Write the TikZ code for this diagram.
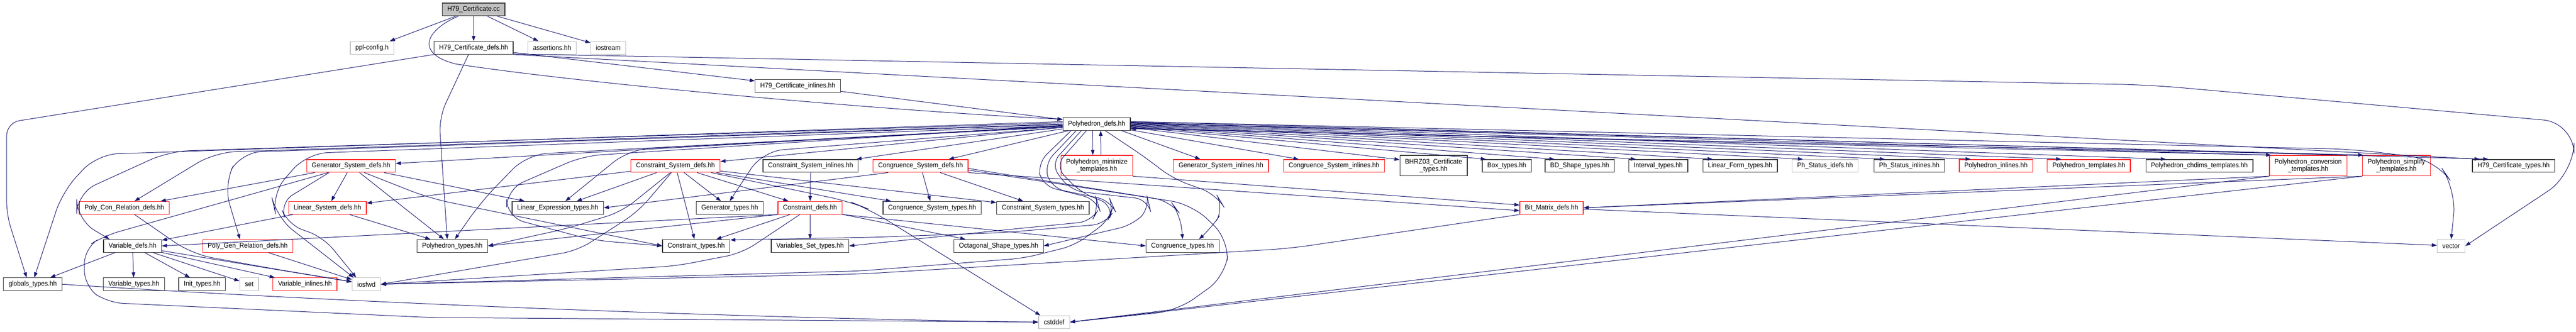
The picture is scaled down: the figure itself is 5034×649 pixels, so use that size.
\documentclass[tikz,border=0pt]{standalone}
\usepackage{fontspec}
\newfontfamily\nf{Liberation Sans}[FakeStretch=0.93]
\usetikzlibrary{arrows.meta}
\definecolor{edgec}{HTML}{191970}
\definecolor{grayb}{HTML}{BFBFBF}
\definecolor{redb}{HTML}{FF2020}
\begin{document}
\begin{tikzpicture}[x=1pt,y=-1pt,
  nb/.style={draw=black!80, line width=1.3pt, fill=white, minimum height=25pt, inner xsep=10pt, inner ysep=0pt, font=\nf\fontsize{13.5}{14}\selectfont, align=center},
  nr/.style={nb, draw=redb},
  ng/.style={nb, draw=grayb},
  nb2/.style={nb, minimum height=40pt},
  nr2/.style={nr, minimum height=40pt},
  edg/.style={draw=edgec, line width=1pt, -{Triangle[length=10pt,width=7pt]}, fill=none}]
\useasboundingbox (0,0) rectangle (5034,649);
\fill[white] (0,0) rectangle (5034,649);
% ---------- nodes ----------
\node[nb, fill=grayb] (cc) at (925.5,18.5) {H79\_Certificate.cc};
\node[ng] (pplcfg) at (727,93.5) {ppl-config.h};
\node[nb] (h79d) at (925.5,93.5) {H79\_Certificate\_defs.hh};
\node[ng] (assert) at (1079,93.5) {assertions.hh};
\node[ng] (iostream) at (1188.5,93.5) {iostream};
\node[nb] (h79i) at (1559,168) {H79\_Certificate\_inlines.hh};
\node[nb] (pd) at (2143,242.5) {Polyhedron\_defs.hh};
% row 2
\node[nr] (gsd) at (686,324.5) {Generator\_System\_defs.hh};
\node[nr] (csd) at (1320,324.5) {Constraint\_System\_defs.hh};
\node[nb] (csi) at (1584,324.5) {Constraint\_System\_inlines.hh};
\node[nr] (cgsd) at (1799,324.5) {Congruence\_System\_defs.hh};
\node[nr2] (minimize) at (2143.5,324) {Polyhedron\_minimize\\\_templates.hh};
\node[nr] (gsi) at (2386,324.5) {Generator\_System\_inlines.hh};
\node[nr] (cgsi) at (2607,324.5) {Congruence\_System\_inlines.hh};
\node[nb2] (bhrz) at (2801.5,324) {BHRZ03\_Certificate\\\_types.hh};
\node[nb] (box) at (2944.5,324.5) {Box\_types.hh};
\node[nb] (bds) at (3087,324.5) {BD\_Shape\_types.hh};
\node[nb] (interval) at (3240.5,324.5) {Interval\_types.hh};
\node[nb] (lform) at (3400.5,324.5) {Linear\_Form\_types.hh};
\node[ng] (phidefs) at (3566.5,324.5) {Ph\_Status\_idefs.hh};
\node[nb] (phinl) at (3731,324.5) {Ph\_Status\_inlines.hh};
\node[nr] (pinl) at (3900.5,324.5) {Polyhedron\_inlines.hh};
\node[nr] (ptempl) at (4082,324.5) {Polyhedron\_templates.hh};
\node[nb] (chdims) at (4298,324.5) {Polyhedron\_chdims\_templates.hh};
\node[nr2] (conv) at (4510.5,324) {Polyhedron\_conversion\\\_templates.hh};
\node[nr2] (simp) at (4683,324) {Polyhedron\_simplify\\\_templates.hh};
\node[nb] (h79t) at (4912,324.5) {H79\_Certificate\_types.hh};
% row 3
\node[nr] (pcon) at (243,406.5) {Poly\_Con\_Relation\_defs.hh};
\node[nr] (lsd) at (640,406.5) {Linear\_System\_defs.hh};
\node[nb] (letypes) at (1090,406.5) {Linear\_Expression\_types.hh};
\node[nb] (gtypes) at (1426,406.5) {Generator\_types.hh};
\node[nr] (cdefs) at (1583,406.5) {Constraint\_defs.hh};
\node[nb] (cgst) at (1821.5,406.5) {Congruence\_System\_types.hh};
\node[nb] (cst) at (2038,406.5) {Constraint\_System\_types.hh};
\node[nr] (bitm) at (3032,406.5) {Bit\_Matrix\_defs.hh};
% row 4
\node[nb] (vdefs) at (259,481) {Variable\_defs.hh};
\node[nr] (pgen) at (484,481) {Poly\_Gen\_Relation\_defs.hh};
\node[nb] (ptypes) at (884,481) {Polyhedron\_types.hh};
\node[nb] (ctypes) at (1360.5,481) {Constraint\_types.hh};
\node[nb] (vstypes) at (1583,481) {Variables\_Set\_types.hh};
\node[nb] (octypes) at (1951.5,481) {Octagonal\_Shape\_types.hh};
\node[nb] (cgtypes) at (2311,481) {Congruence\_types.hh};
\node[ng] (vector) at (4790,481) {vector};
% row 5
\node[nb] (globals) at (64,556) {globals\_types.hh};
\node[nb] (vtypes) at (261.6,556) {Variable\_types.hh};
\node[nb] (init) at (395,556) {Init\_types.hh};
\node[ng] (set) at (487,556) {set};
\node[nr] (vinl) at (596,556) {Variable\_inlines.hh};
\node[ng] (iosfwd) at (716,556) {iosfwd};
\node[ng] (cstddef) at (2060,630) {cstddef};
% ---------- edges ----------
% H79_Certificate.cc
\draw[edg] (cc) -- (pplcfg);
\draw[edg] (cc) -- (h79d);
\draw[edg] (cc) -- (assert);
\draw[edg] (cc) -- (iostream);
\draw[edg] ([xshift=-30pt]cc.south) .. controls (830,60) and (812,105) .. (890,125) .. controls (1150,165) and (1750,218) .. (pd.172);
% H79_Certificate_defs
\draw[edg, rounded corners=25pt] (h79d.south west) -- (13,240) -- (13,420) -- ([xshift=-12pt]globals.north);
\draw[edg, rounded corners=30pt] ([xshift=-10pt]h79d.south) -- (858,230) -- ([xshift=-10pt]ptypes.north);
\draw[edg] (h79d) -- (h79i);
\draw[edg] (h79d.south east) -- ([xshift=15pt]h79t.north west);
\draw[edg, rounded corners=60pt] ([yshift=1pt]h79d.south east) -- (1240,110) -- (4200,166) -- (5030,240) -- (5030,340) -- (vector.east);
\draw[edg] (h79i) -- (pd);
% Polyhedron_defs, left fan
\draw[edg, rounded corners=40pt] (pd.176) -- (190,302) -- (122,375) -- ([xshift=3pt]globals.north);
\draw[edg, rounded corners=40pt] (pd.178) -- (330,296) -- (150,378) -- (150,430) -- ([xshift=-45pt]vdefs.north);
\draw[edg, rounded corners=40pt] (pd.180) -- (420,298) -- ([xshift=20pt]pcon.north);
\draw[edg, rounded corners=40pt] (pd.181) -- (470,298) -- (437,360) -- ([xshift=-15pt]pgen.north);
\draw[edg, rounded corners=40pt] (pd.183) -- (600,300) -- (530,380) -- (540,425) -- ([xshift=-25pt]iosfwd.north);
\draw[edg] (pd) -- (gsd);
\draw[edg, rounded corners=40pt] (pd.184) -- (1030,302) -- (940,395) -- ([xshift=5pt]ptypes.north);
\draw[edg, rounded corners=40pt] (pd.185) -- (1230,292) -- ([xshift=15pt]letypes.north);
\draw[edg] (pd) -- (csd);
\draw[edg] (pd) -- (csi);
\draw[edg, rounded corners=40pt] (pd.186) -- (1490,296) -- (gtypes.north);
\draw[edg, rounded corners=35pt] (pd.182) -- (1140,305) -- (990,370) -- (990,425) -- (1160,470) -- (ctypes.west);
\draw[edg] (pd) -- (cgsd);
% Polyhedron_defs <-> minimize
\draw[edg] ([xshift=-8pt]pd.south) -- ([xshift=-8pt]minimize.north);
\draw[edg] ([xshift=8pt]minimize.north) -- ([xshift=8pt]pd.south);
% loops below Polyhedron_defs
\draw[edg, rounded corners=25pt] ([xshift=-50pt]pd.south) -- (2027,320) -- (2037,363) -- (2143,390) -- (2148,407) -- (2133,433) -- (1960,450) -- (vstypes.east);
\draw[edg, rounded corners=25pt] ([xshift=-40pt]pd.south) -- (2040,322) -- (2055,368) -- (2170,392) -- (2178,410) -- (2160,438) -- (1960,455) -- (1710,464) -- (ctypes.10);
\draw[edg, rounded corners=25pt] ([xshift=-30pt]pd.south) -- (2053,322) -- (2093,373) -- (2243,390) -- (2247,407) -- (2213,440) -- (octypes.east);
\draw[edg, rounded corners=25pt] ([xshift=-20pt]pd.south) -- (2062,325) -- (2110,375) -- (2175,402) -- (2168,430) -- (2100,480) -- (2000,505) -- (1680,530) -- (iosfwd.east);
\draw[edg, rounded corners=30pt] ([xshift=17pt]pd.south) -- (2237,307) -- (2293,350) -- (2377,380) -- (2393,407) -- (2367,447) -- ([xshift=32pt]cgtypes.north);
% Polyhedron_defs, right fan
\draw[edg] (pd.-15) -- ([xshift=53pt]gsi.north west);
\draw[edg] (pd.-10) -- ([xshift=30pt]cgsi.north west);
\draw[edg] (pd.-6) -- (bhrz.170);
\draw[edg] (pd.-5) -- ([xshift=8pt]box.north west);
\draw[edg] (pd.-4) -- ([xshift=19pt]bds.north west);
\draw[edg] (pd.-3) -- ([xshift=15pt]interval.north west);
\draw[edg] (pd.-2) -- ([xshift=20pt]lform.north west);
\draw[edg] (pd.-1) -- ([xshift=22pt]phidefs.north west);
\draw[edg] (pd.0) -- ([xshift=22pt]phinl.north west);
\draw[edg] (pd.1) -- ([xshift=23pt]pinl.north west);
\draw[edg] (pd.2) -- ([xshift=28pt]ptempl.north west);
\draw[edg] (pd.3) -- ([xshift=40pt]chdims.north west);
\draw[edg] (pd.2) -- ([xshift=4pt]conv.north west);
\draw[edg] (pd.2) -- ([xshift=2pt]simp.north west);
\draw[edg] (pd.4) -- ([xshift=32pt]h79t.north west);
\draw[edg, rounded corners=50pt] (pd.4) -- (4600,292) -- (4760,312) -- (4800,370) -- (vector.north);
\draw[edg] (conv.north west) -- (pd.-7);
\draw[edg] (simp.north west) -- (pd.-8);
% Generator_System_defs
\draw[edg] (gsd) -- (pcon);
\draw[edg] (gsd) -- (lsd);
\draw[edg, rounded corners=30pt] ([xshift=-45pt]gsd.south) -- (204,461) -- (165,485) -- (165,560) -- (210,592) -- (840,621) -- (cstddef.west);
\draw[edg, rounded corners=30pt] ([xshift=-43pt]gsd.south) -- (546,397) -- (562,439) -- (632,464) -- ([xshift=-20pt]iosfwd.north);
\draw[edg] (gsd) -- (ptypes);
\draw[edg, rounded corners=40pt] ([xshift=26pt]gsd.south) -- (840,388) -- (ctypes.west);
\draw[edg] (gsd) -- (letypes);
% Linear_System_defs
\draw[edg] (lsd) -- (vdefs);
\draw[edg] (lsd) -- (ptypes);
% Constraint_System_defs
\draw[edg] (csd) -- (lsd);
\draw[edg] (csd) -- (letypes);
\draw[edg, rounded corners=30pt] ([xshift=-10pt]csd.south) -- (1215,414) -- (1108,447) -- (ptypes.east);
\draw[edg, rounded corners=30pt] ([xshift=-8pt]csd.south) -- (1247,414) -- (1129,490) -- (iosfwd.east);
\draw[edg] (csd) -- (ctypes);
\draw[edg] (csd) -- (gtypes);
\draw[edg] (csd) -- (cdefs);
\draw[edg] (csd) -- (cst);
\draw[edg] (csd) -- (cgst);
\draw[edg, rounded corners=40pt] ([xshift=-18pt]csd.south east) -- (1660,394) -- (1700,410) -- ([xshift=-27pt]cstddef.north);
\draw[edg] (csi) -- (cdefs);
% Congruence_System_defs
\draw[edg] (cgsd) -- (cgst);
\draw[edg] (cgsd) -- (cst);
\draw[edg] ([xshift=30pt]cgsd.south west) -- (letypes.east);
\draw[edg, rounded corners=30pt] (cgsd.-5) -- (2287,393) -- (2307,420) -- (cgtypes.north);
\draw[edg, rounded corners=40pt] (cgsd.-3) -- (2330,400) -- (2402,470) -- (2395,540) -- (2300,608) -- (cstddef.east);
\draw[edg] (cgsd.south east) -- (bitm.185);
% Constraint_defs
\draw[edg] (cdefs.south west) -- (vdefs.east);
\draw[edg] (cdefs.south west) -- (ptypes.east);
\draw[edg] (cdefs) -- (ctypes);
\draw[edg] (cdefs) -- (vstypes);
\draw[edg, rounded corners=30pt] ([xshift=-20pt]cdefs.south) -- (1450,495) -- (1322,520) -- (iosfwd.east);
\draw[edg] (cdefs.south east) -- (cgtypes.west);
\draw[edg] (cdefs) -- (octypes);
% Variable_defs and relations
\draw[edg] (vdefs) -- (globals);
\draw[edg] (vdefs) -- (vtypes);
\draw[edg] (vdefs) -- (init);
\draw[edg] (vdefs) -- (set);
\draw[edg] (vdefs) -- (vinl);
\draw[edg] (vdefs) -- (iosfwd);
\draw[edg, rounded corners=40pt] ([xshift=20pt]pcon.south) -- (375,497) -- (536,526) -- (iosfwd.170);
\draw[edg] (pgen) -- (iosfwd);
\draw[edg] (globals.east) .. controls (800,600) and (1600,625) .. (cstddef.west);
% Bit_Matrix and templates
\draw[edg] (bitm) -- (vector);
\draw[edg, rounded corners=40pt] (bitm.south west) -- (2520,486) -- (1680,536) -- (iosfwd.east);
\draw[edg] (minimize.south east) -- (bitm.175);
\draw[edg] (conv.south west) -- (bitm.east);
\draw[edg] (simp.south west) -- (bitm.east);
\draw[edg] (conv.south west) -- (cstddef.east);
\draw[edg] (simp.south west) -- (cstddef.east);
\end{tikzpicture}
\end{document}
